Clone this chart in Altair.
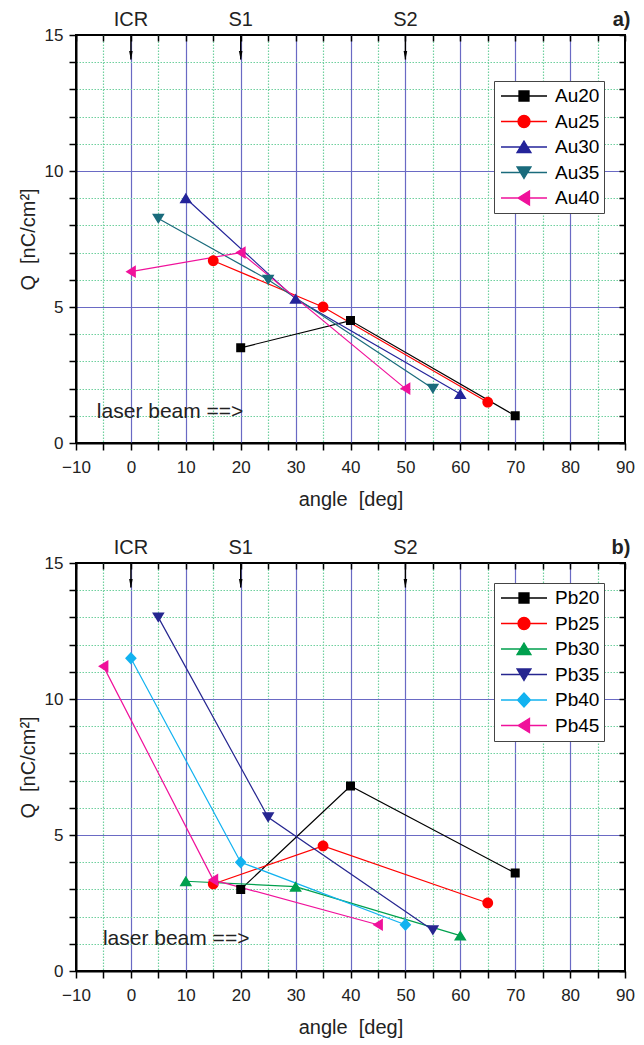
import altair as alt
import pandas as pd

FONT = "Liberation Sans"
BLUE = "#6a6ac4"
GREEN = "#6fd09e"

# ---------------- data ----------------
au_series = ["Au20", "Au25", "Au30", "Au35", "Au40"]
au_angle = [[20, 40, 70], [15, 35, 65], [10, 30, 60], [5, 25, 55], [0, 20, 50]]
au_q = [[3.5, 4.5, 1.0], [6.7, 5.0, 1.5], [9.0, 5.3, 1.8], [8.25, 6.0, 2.0], [6.3, 7.0, 2.0]]
au_colors = ["#000000", "#ff0000", "#24249a", "#1a6b7c", "#f0119b"]
au_shapes = ["square", "circle", "up", "down", "left"]

pb_series = ["Pb20", "Pb25", "Pb30", "Pb35", "Pb40", "Pb45"]
pb_angle = [[20, 40, 70], [15, 35, 65], [10, 30, 60], [5, 25, 55], [0, 20, 50], [-5, 15, 45]]
pb_q = [[3.0, 6.8, 3.6], [3.2, 4.6, 2.5], [3.3, 3.1, 1.3], [13.0, 5.65, 1.5], [11.5, 4.0, 1.7], [11.2, 3.35, 1.7]]
pb_colors = ["#000000", "#ff0000", "#00a04e", "#262690", "#12b2f0", "#f0119b"]
pb_shapes = ["square", "circle", "up", "down", "diamond", "left"]

x_ticks = list(range(-10, 95, 5))
y_ticks = list(range(0, 16))
mark_labels = ["ICR", "S1", "S2"]
mark_angles = [0, 20, 50]

# symbol paths: a short legend line plus the marker (the line has no area, so it only shows when stroked)
LINE = "M-0.92,0H0.92"
SYM = {
    "square": LINE + "M-0.2,-0.2H0.2V0.2H-0.2Z",
    "circle": LINE + "M-0.24,0A0.24,0.24,0,1,0,0.24,0A0.24,0.24,0,1,0,-0.24,0Z",
    "up": LINE + "M0,-0.24L0.28,0.22L-0.28,0.22Z",
    "down": LINE + "M0,0.24L0.28,-0.22L-0.28,-0.22Z",
    "diamond": LINE + "M0,-0.28L0.26,0L0,0.28L-0.26,0Z",
    "left": LINE + "M-0.24,0L0.22,-0.28L0.22,0.28Z",
}
ARROW = "M-0.4,-1L0.4,-1L0,1Z"

W, H = 549, 408
xs = alt.Scale(domain=[-10, 90], nice=False, zero=False)
ys = alt.Scale(domain=[0, 15], nice=False, zero=False)


def grid_axis(orient, values, step, edge_lo, edge_hi, title, title_pad, label_pad):
    major = f"datum.value % {step} === 0"
    return alt.Axis(
        orient=orient, values=values, title=title,
        labelExpr=f"{major} ? datum.label : ''",
        labelOverlap=False, labelFlush=False,
        grid=True,
        gridColor={"condition": {"test": major, "value": BLUE}, "value": GREEN},
        gridDash={"condition": {"test": major, "value": []}, "value": [1.5, 1.5]},
        gridOpacity={"condition": {"test": f"datum.value <= {edge_lo} || datum.value >= {edge_hi}", "value": 0}, "value": 1},
        gridWidth=1.2,
        tickSize=7, tickWidth=1.5, tickColor="black",
        domainColor="black", domainWidth=2,
        labelFont=FONT, labelFontSize=17, labelColor="#222", labelPadding=label_pad,
        titleFont=FONT, titleFontSize=20, titleFontWeight="normal", titleColor="#222",
        titlePadding=title_pad,
    )


def tick_axis(orient, values):
    return alt.Axis(orient=orient, values=values, title=None, labels=False, domain=False,
                    grid=False, ticks=True, tickSize=6, tickWidth=1.5, tickColor="black",
                    offset=-6)


def panel(series, angles, qs, colors, shapes, tag, laser_pos, legend_y):
    rows = []
    for s, aa, qq in zip(series, angles, qs):
        for a, q in zip(aa, qq):
            rows.append({"series": s, "angle": a, "q": q})
    df = pd.DataFrame(rows)

    cscale = alt.Scale(domain=series, range=colors)
    sscale = alt.Scale(domain=series, range=[SYM[k] for k in shapes])
    leg = alt.Legend(title=None, orient="none", legendX=418, legendY=legend_y,
                     symbolSize=2500, symbolStrokeWidth=1.3, symbolOpacity=1,
                     clipHeight=22, rowPadding=3.5, labelOffset=5,
                     labelFont=FONT, labelFontSize=19, labelColor="black", labelLimit=200,
                     padding=4, strokeColor="#444", fillColor="white")

    lines = alt.Chart(df).mark_line(strokeWidth=1.2).encode(
        x=alt.X("angle:Q", scale=xs,
                axis=grid_axis("bottom", x_ticks, 10, -10, 90, "angle\u00a0\u00a0[deg]", 14, 9)),
        y=alt.Y("q:Q", scale=ys,
                axis=grid_axis("left", y_ticks, 5, 0, 15, "Q\u00a0\u00a0[nC/cm²]", 6, 6)),
        color=alt.Color("series:N", scale=cscale, legend=leg),
        detail="series:N",
        order="angle:Q",
    )

    points = alt.Chart(df).mark_point(filled=True, size=2025, opacity=1, clip=True).encode(
        x=alt.X("angle:Q", scale=xs, axis=tick_axis("top", x_ticks)),
        y=alt.Y("q:Q", scale=ys, axis=tick_axis("right", y_ticks)),
        color=alt.Color("series:N", scale=cscale, legend=leg),
        stroke=alt.Stroke("series:N", scale=cscale, legend=leg),
        shape=alt.Shape("series:N", scale=sscale, legend=leg),
        strokeWidth=alt.value(0),
    )

    ann = pd.DataFrame({"label": mark_labels, "angle": mark_angles})
    ann["ytext"] = 15.55
    ann["ytop"] = 15.0
    ann["ytip"] = 14.1
    ann["yhead"] = 14.25

    texts = alt.Chart(ann).mark_text(font=FONT, fontSize=20, color="#222", baseline="middle").encode(
        x=alt.X("angle:Q", scale=xs, axis=None),
        y=alt.Y("ytext:Q", scale=ys, axis=None),
        text="label:N",
    )
    rules = alt.Chart(ann).mark_rule(color="black", strokeWidth=1.4).encode(
        x=alt.X("angle:Q", scale=xs, axis=None),
        y=alt.Y("ytop:Q", scale=ys, axis=None),
        y2="ytip:Q",
    )
    heads = alt.Chart(ann).mark_point(shape=ARROW, filled=True, size=81, color="black", opacity=1).encode(
        x=alt.X("angle:Q", scale=xs, axis=None),
        y=alt.Y("yhead:Q", scale=ys, axis=None),
    )

    tag_df = pd.DataFrame({"label": [tag], "angle": [91], "y": [15.55]})
    tag_txt = alt.Chart(tag_df).mark_text(font=FONT, fontSize=20, fontWeight="bold", color="#222",
                                          align="right", baseline="middle").encode(
        x=alt.X("angle:Q", scale=xs, axis=None),
        y=alt.Y("y:Q", scale=ys, axis=None),
        text="label:N",
    )

    laser_df = pd.DataFrame({"label": ["laser beam ==>"], "angle": [laser_pos[0]], "y": [laser_pos[1]]})
    laser = alt.Chart(laser_df).mark_text(font=FONT, fontSize=21, color="#222",
                                          align="left", baseline="middle").encode(
        x=alt.X("angle:Q", scale=xs, axis=None),
        y=alt.Y("y:Q", scale=ys, axis=None),
        text="label:N",
    )

    return alt.layer(lines, points, rules, heads, texts, tag_txt, laser).properties(width=W, height=H)


pa = panel(au_series, au_angle, au_q, au_colors, au_shapes, "a)", (-6.2, 1.13), 46)
pb = panel(pb_series, pb_angle, pb_q, pb_colors, pb_shapes, "b)", (-5.1, 1.16), 20)

chart = (
    alt.vconcat(pa, pb, spacing=27)
    .resolve_scale(color="independent", shape="independent", stroke="independent")
    .properties(padding={"left": 9, "top": 1, "right": 0, "bottom": 0})
    .configure(font=FONT)
    .configure_view(stroke="black", strokeWidth=2)
)

chart.save("out.html", embed_options={"renderer": "svg", "actions": False})
